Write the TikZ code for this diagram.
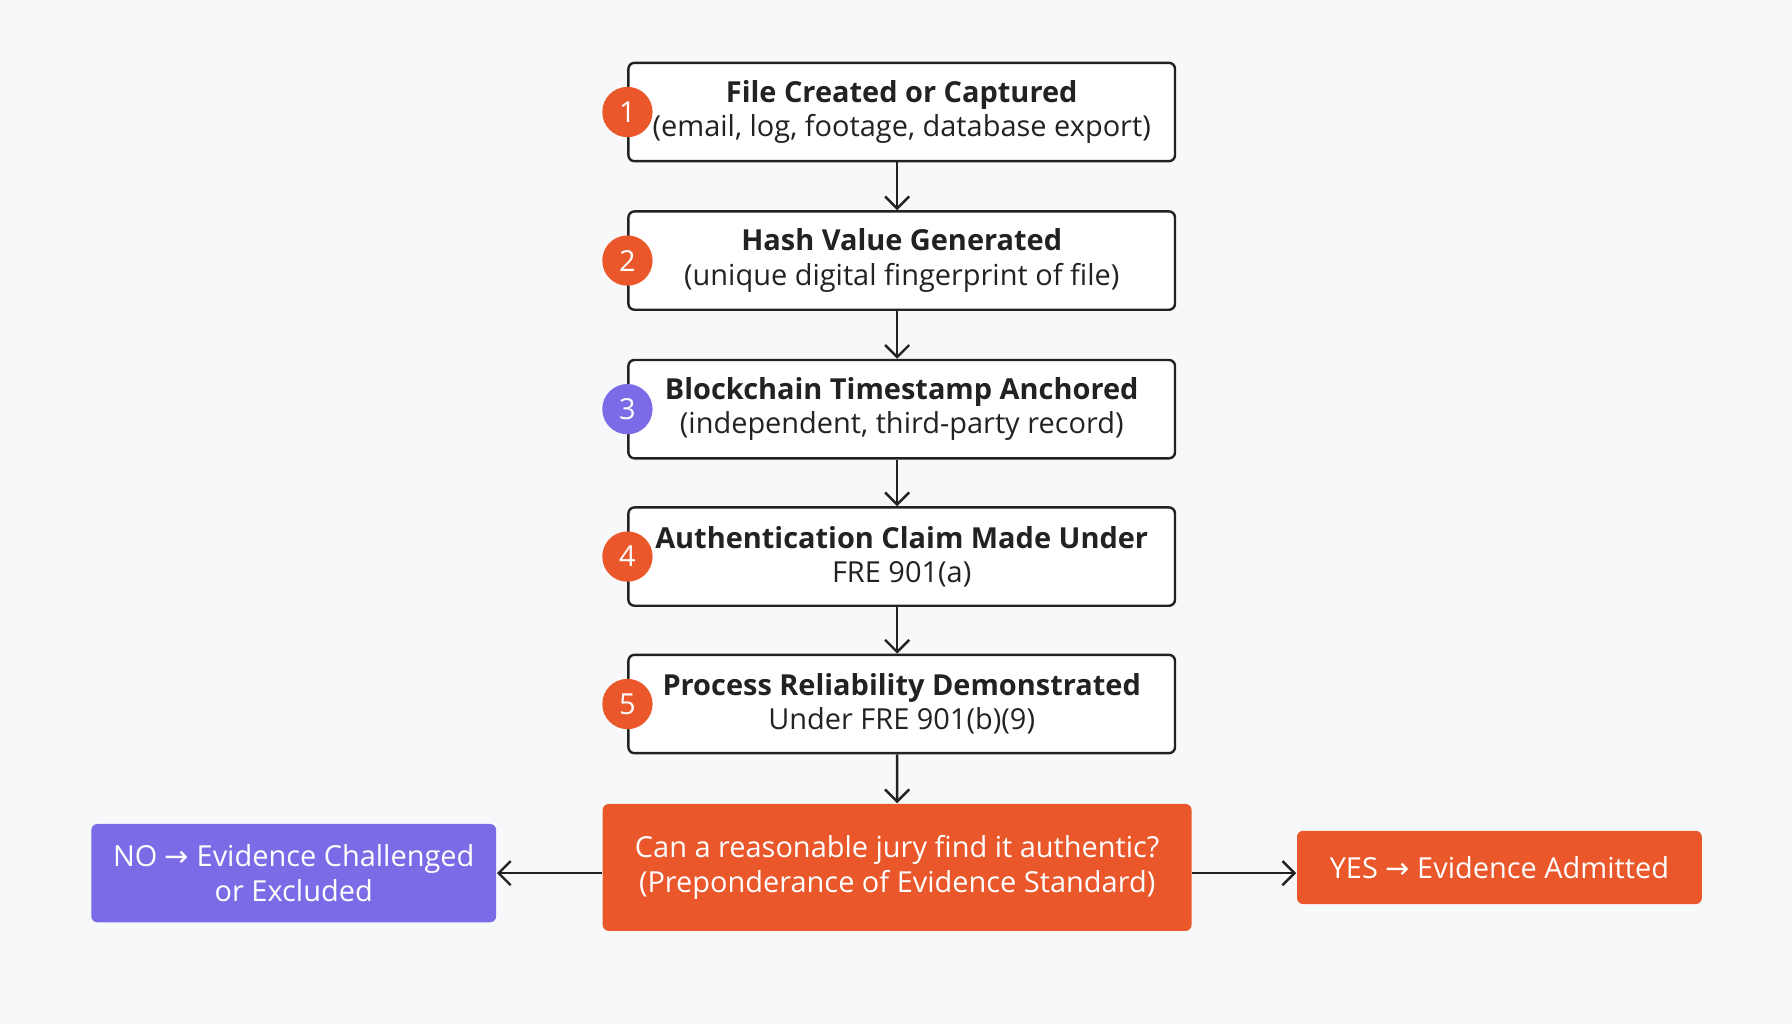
\documentclass[tikz,border=0pt]{standalone}
\usepackage{fontspec}
\setmainfont{Open Sans}
\newfontfamily\arrfont{DejaVu Sans}
\newcommand{\rarr}{{\arrfont →}}
\usetikzlibrary{arrows.meta}
\definecolor{bg}{HTML}{F6F8FA}
\definecolor{org}{HTML}{E9572B}
\definecolor{pur}{HTML}{7C6BE6}
\definecolor{ink}{HTML}{222222}
\begin{document}
\begin{tikzpicture}[x=0.01cm,y=-0.01cm,
 stepbox/.style={draw=ink,line width=0.6pt,rounded corners=1.5pt,fill=white,minimum width=4.78cm,minimum height=0.86cm,align=center,font=\fontsize{7.2}{8.6}\selectfont,text=ink},
 num/.style={circle,fill=org,text=white,minimum size=0.44cm,inner sep=0,font=\fontsize{7.2}{8}\selectfont},
 res/.style={rounded corners=1.5pt,text=white,align=center,font=\fontsize{7.2}{8.6}\selectfont},
 arr/.style={-{Straight Barb[length=3pt,width=6pt]},draw=ink,line width=0.6pt}]
\fill[bg] (0,0) rectangle (1568,896);
\node[stepbox] (s1) at (789,98) {\textbf{File Created or Captured}\\(email, log, footage, database export)};
\node[stepbox] (s2) at (789,228) {\textbf{Hash Value Generated}\\(unique digital fingerprint of file)};
\node[stepbox] (s3) at (789,358) {\textbf{Blockchain Timestamp Anchored}\\(independent, third-party record)};
\node[stepbox] (s4) at (789,487) {\textbf{Authentication Claim Made Under}\\FRE 901(a)};
\node[stepbox] (s5) at (789,616) {\textbf{Process Reliability Demonstrated}\\Under FRE 901(b)(9)};
\node[num] (n1) at (549,98) {1};
\node[num] (n2) at (549,228) {2};
\node[num,fill=pur] (n3) at (549,358) {3};
\node[num] (n4) at (549,487) {4};
\node[num] (n5) at (549,616) {5};
\node[res,fill=org,minimum width=5.15cm,minimum height=1.11cm] (d) at (785,759) {Can a reasonable jury find it authentic?\\(Preponderance of Evidence Standard)};
\node[res,fill=pur,minimum width=3.54cm,minimum height=0.86cm] (no) at (257,764) {NO \rarr{} Evidence Challenged\\or Excluded};
\node[res,fill=org,minimum width=3.54cm,minimum height=0.64cm] (yes) at (1312,759) {YES \rarr{} Evidence Admitted};
\foreach \a/\b in {s1/s2,s2/s3,s3/s4,s4/s5}
  \draw[arr] ([xshift=-0.04cm]\a.south) -- ([xshift=-0.04cm]\b.north);
\draw[arr] ([xshift=-0.04cm]s5.south) -- (d.north);
\draw[arr] (d.west|-0,764) -- (no.east);
\draw[arr] (d.east|-0,764) -- (yes.west|-0,764);
\end{tikzpicture}
\end{document}
